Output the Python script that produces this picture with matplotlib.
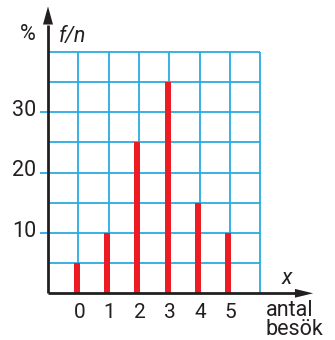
import matplotlib
matplotlib.use("Agg")
from matplotlib import pyplot as plt

# data
categories = [0, 1, 2, 3, 4, 5]
values = [5, 10, 25, 35, 15, 10]
yticks = [10, 20, 30]

plt.rcParams["font.family"] = ["Roboto", "DejaVu Sans"]

ink = "#231f20"
blue = "#2aaae1"
red = "#ed1c24"

fig = plt.figure(figsize=(3.35, 3.40), dpi=100)
ax = fig.add_axes([0, 0, 1, 1])
ax.axis("off")
# pixel calibration: x=0 at px 78.3, 30.3 px/unit ; y=0 at px 293.3, 6.04 px/unit
ax.set_xlim(-78.3 / 30.3, (335 - 78.3) / 30.3)
ax.set_ylim(-(340 - 293.3) / 6.04, 293.3 / 6.04)

# grid
ax.vlines(range(0, 7), 0, 40, color=blue, lw=1.3, zorder=1)
ax.hlines(range(5, 41, 5), -1, 6, color=blue, lw=1.3, zorder=1)

# bars
ax.bar([c - 0.05 for c in categories], values, width=0.2, color=red, zorder=2)

# axes with arrows
ax.plot([-1, -1], [0, 44.5], color=ink, lw=2, solid_capstyle="butt", zorder=3)
ax.plot([-1, 7.2], [0, 0], color=ink, lw=2, solid_capstyle="butt", zorder=3)
ax.arrow(-1, 44.3, 0, 3.2, width=0, head_width=0.33, head_length=3.0,
         length_includes_head=True, color=ink, lw=0, zorder=3)
ax.arrow(7.1, 0, 0.65, 0, width=0, head_width=1.45, head_length=0.6,
         length_includes_head=True, color=ink, lw=0, zorder=3)

# y ticks
ax.hlines(yticks, -1.264, -1, color=blue, lw=1.3, zorder=1)
for t in yticks:
    ax.text(-1.39, t + 0.3, str(t), ha="right", va="center", fontsize=15.5,
            color=ink)
for c in categories:
    ax.text(c + 0.03, -3.2, str(c), ha="center", va="center", fontsize=15,
            color=ink)

ax.text(-1.66, 42.9, "%", ha="center", va="center", fontsize=15.5, color=ink)
ax.text(-0.64, 41.6, "f/n", ha="left", va="baseline", fontsize=15.5,
        style="italic", color=ink)
ax.text(6.89, 2.5, "x", ha="center", va="center", fontsize=15.5,
        style="italic", color=ink)
ax.text(6.19, -3.76, "antal", ha="left", va="baseline", fontsize=15.5, color=ink)
ax.text(6.19, -6.9, "besök", ha="left", va="baseline", fontsize=15.5, color=ink)

fig.savefig("out.png", dpi=100)
